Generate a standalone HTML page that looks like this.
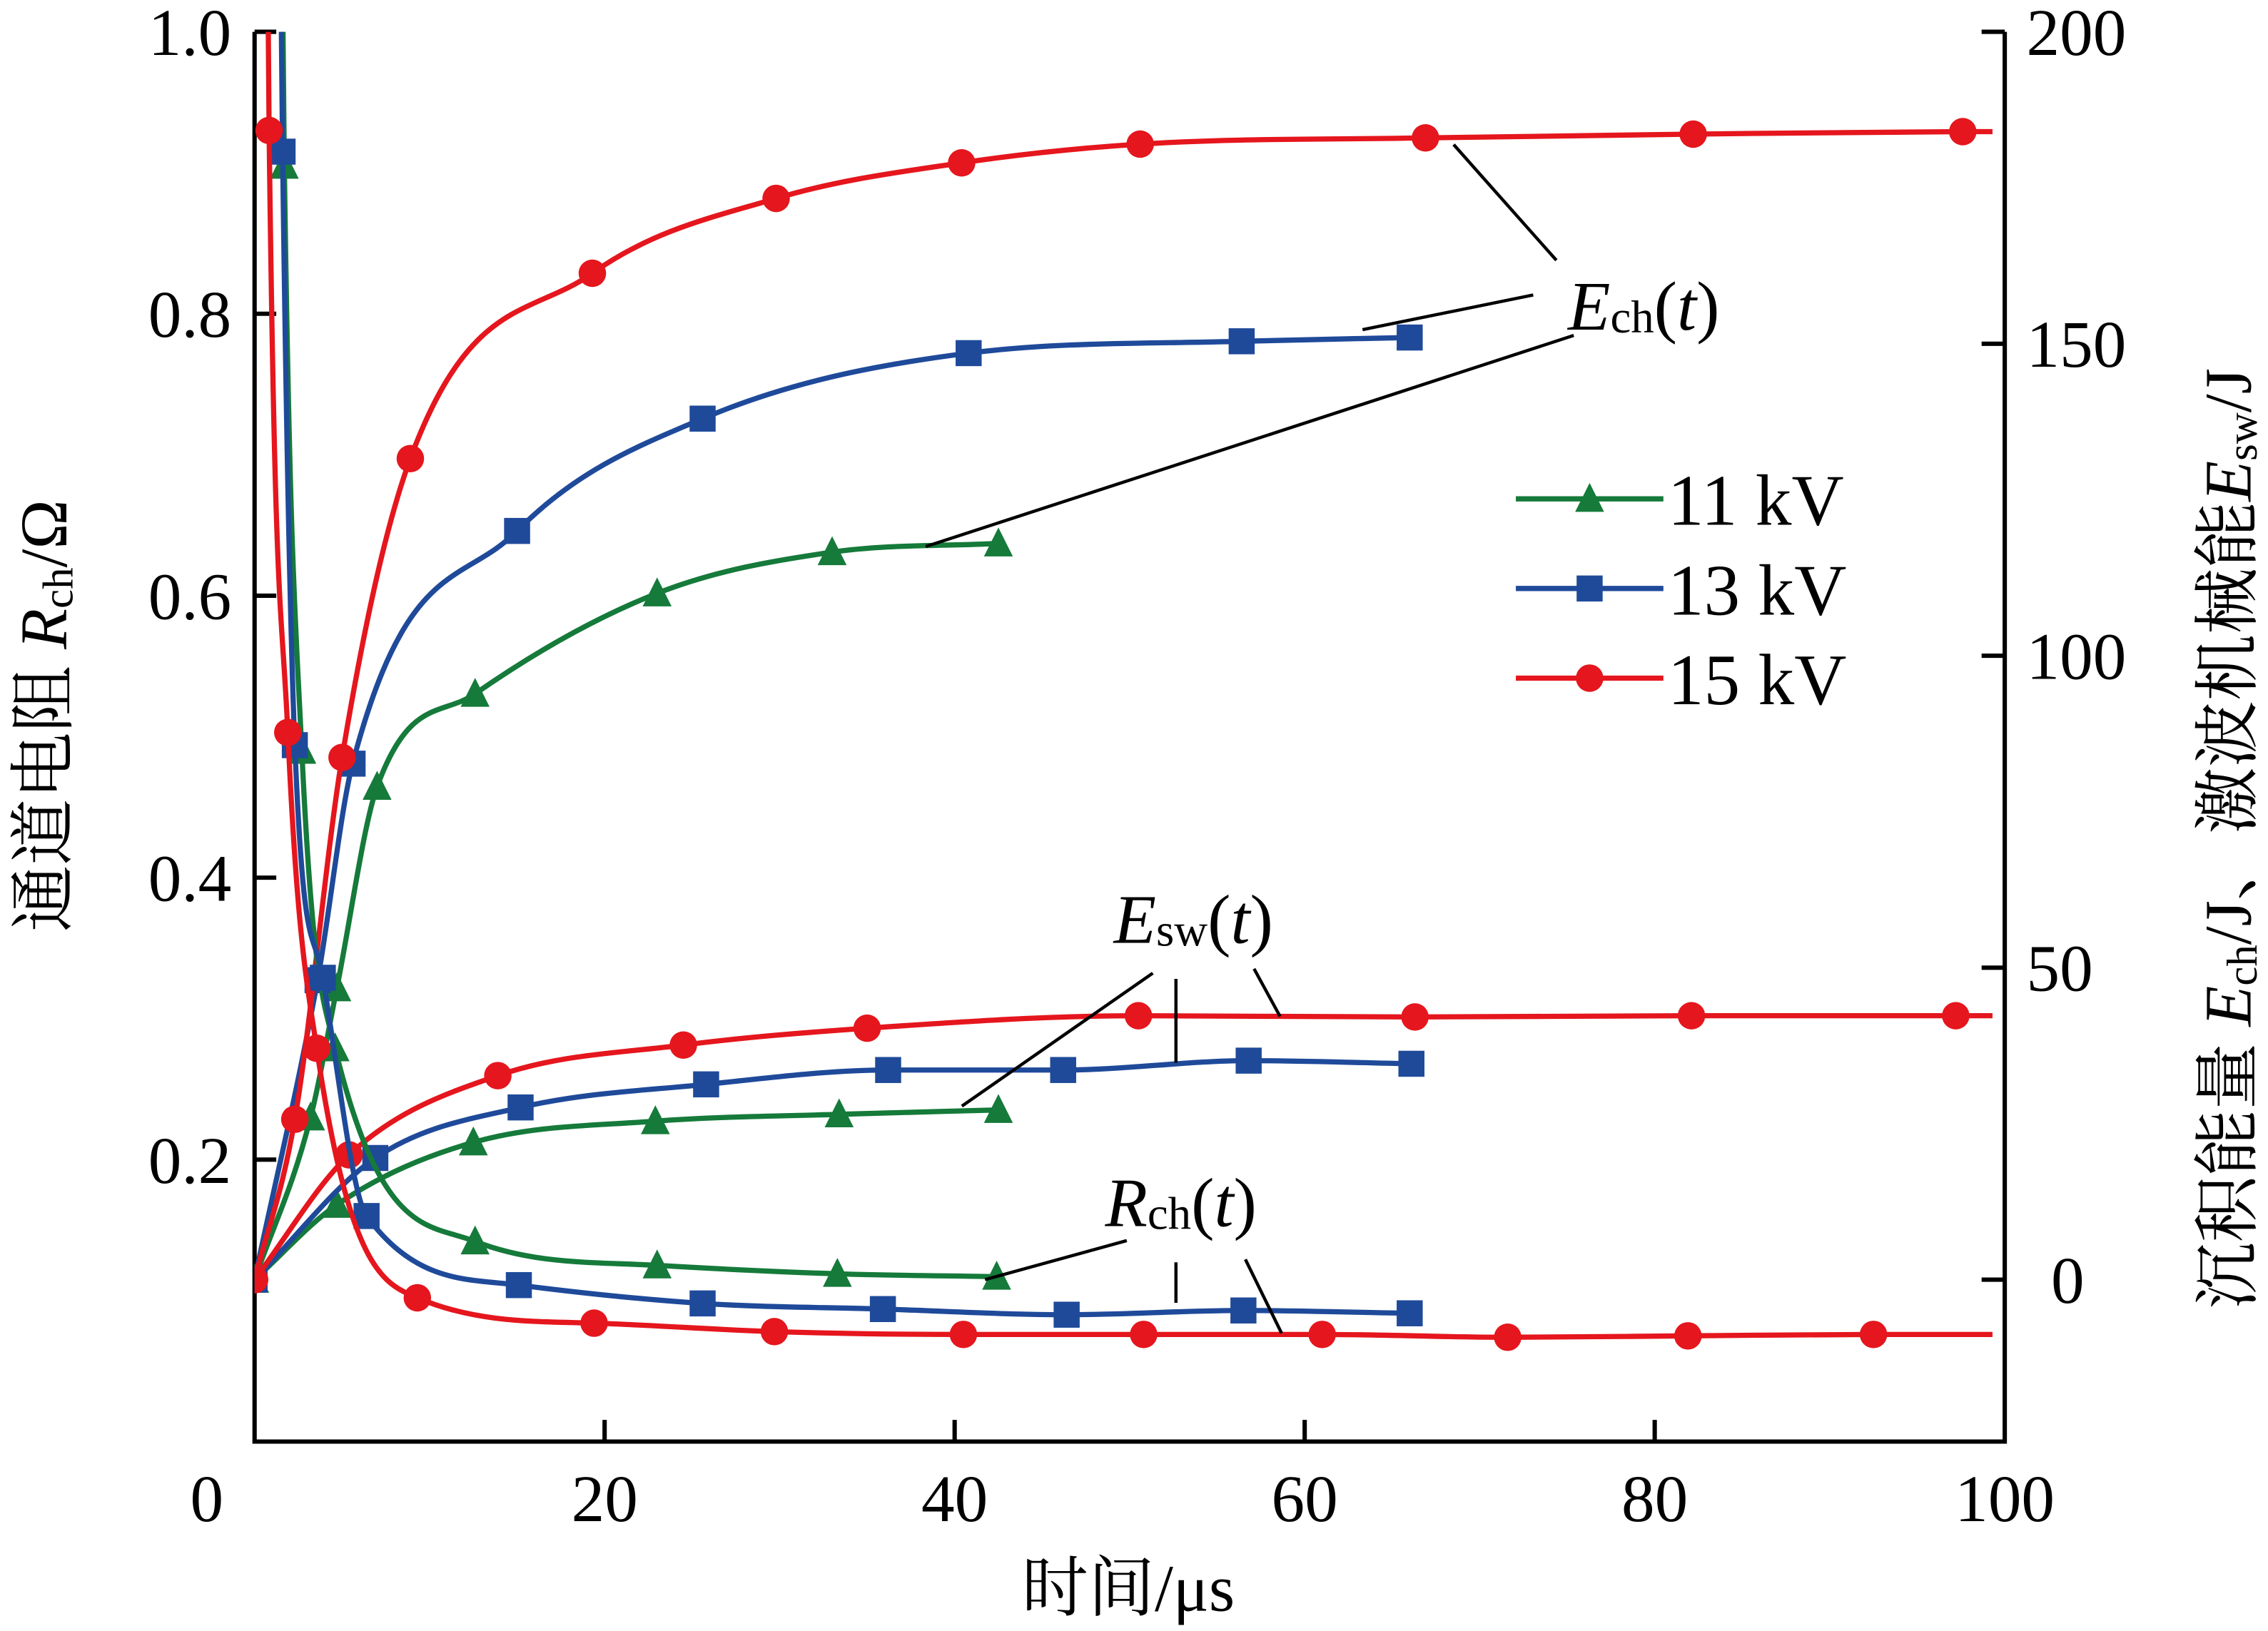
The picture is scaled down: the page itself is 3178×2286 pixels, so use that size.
<!DOCTYPE html>
<html><head><meta charset="utf-8"><style>
html,body{margin:0;padding:0;background:#fff;}
svg{display:block;}
text{font-family:"Liberation Serif","Noto Serif CJK SC",serif;fill:#000;}
</style></head>
<body>
<svg id="chart" width="3178" height="2286" viewBox="0 0 1568 1128" preserveAspectRatio="none" xmlns="http://www.w3.org/2000/svg">
<defs><clipPath id="plotClip"><rect x="176" y="22" width="1210" height="975"/></clipPath></defs>
<g id="axes"></g>
<g id="series" clip-path="url(#plotClip)"></g>
<g id="annot">
  <line x1="1005" y1="100" x2="1076" y2="180" stroke="#000" stroke-width="2.2"/>
  <line x1="942" y1="228" x2="1060" y2="204" stroke="#000" stroke-width="2.2"/>
  <line x1="640" y1="378" x2="1088" y2="232" stroke="#000" stroke-width="2.2"/>
  <text x="1084" y="228" font-size="48"><tspan font-style="italic">E</tspan><tspan font-size="32" dy="2">ch</tspan><tspan dy="-2">(</tspan><tspan font-style="italic">t</tspan><tspan>)</tspan></text>
  <line x1="665" y1="765" x2="797" y2="673" stroke="#000" stroke-width="2.2"/>
  <line x1="813" y1="677" x2="813" y2="735" stroke="#000" stroke-width="2.2"/>
  <line x1="867" y1="670" x2="885" y2="703" stroke="#000" stroke-width="2.2"/>
  <text x="770" y="652" font-size="48"><tspan font-style="italic">E</tspan><tspan font-size="32" dy="2">sw</tspan><tspan dy="-2">(</tspan><tspan font-style="italic">t</tspan><tspan>)</tspan></text>
  <line x1="681" y1="885" x2="779" y2="858" stroke="#000" stroke-width="2.2"/>
  <line x1="813" y1="873" x2="813" y2="901" stroke="#000" stroke-width="2.2"/>
  <line x1="861" y1="871" x2="886" y2="922" stroke="#000" stroke-width="2.2"/>
  <text x="764" y="848" font-size="48"><tspan font-style="italic">R</tspan><tspan font-size="32" dy="2">ch</tspan><tspan dy="-2">(</tspan><tspan font-style="italic">t</tspan><tspan>)</tspan></text>
</g>
<g id="legend"></g>
<text x="780" y="1114" font-size="46" text-anchor="middle">时间/μs</text>
<text transform="translate(46,495) rotate(-90)" font-size="46" text-anchor="middle">通道电阻 <tspan font-style="italic">R</tspan><tspan font-size="30" dy="4">ch</tspan><tspan dy="-4">/Ω</tspan></text>
<text transform="translate(1556,580) rotate(-90)" font-size="46" text-anchor="middle">沉积能量 <tspan font-style="italic">E</tspan><tspan font-size="30" dy="4">ch</tspan><tspan dy="-4">/J、激波机械能</tspan><tspan font-style="italic">E</tspan><tspan font-size="30" dy="4">sw</tspan><tspan dy="-4">/J</tspan></text>
</svg>
<script>
// ---- data ----
const xTicks = [0,20,40,60,80,100];
const leftTicks = [0.2,0.4,0.6,0.8,1.0];
const rightTicks = [0,50,100,150,200];
const seriesNames = ["11 kV","13 kV","15 kV"];
// Rch (left axis)
const rchT11 = [1.4,1.7,2.7,4.6,12.6,23,33.3,42.4];
const rchV11 = [1.3,0.905,0.49,0.279,0.142,0.125,0.119,0.117];
const rchT13 = [1.3,1.6,2.3,3.9,6.4,15.1,25.6,35.9,46.4,56.5,66];
const rchV13 = [1.3,0.915,0.494,0.329,0.16,0.111,0.098,0.094,0.090,0.093,0.091];
const rchT15 = [0.6,0.83,1.9,3.55,9.3,19.4,29.7,40.5,50.8,61,71.6,81.9,92.5];
const rchV15 = [1.3,0.93,0.503,0.279,0.102,0.084,0.078,0.076,0.076,0.076,0.074,0.075,0.076];
// Ech (right axis)
const echT11 = [0,3.2,4.7,7,12.6,23,33,42.5];
const echV11 = [0,26,46.7,79,93.9,110,116.6,118];
const echT13 = [0,3.6,5.6,15,25.6,40.8,56.4,66];
const echV13 = [0,48,82.7,120,138,148.5,150.4,151];
const echT15 = [0,2.3,5,8.9,19.3,29.8,40.4,50.6,66.9,82.2,97.6];
const echV15 = [0,25.7,83.7,131.6,161.3,173.3,179,182,183,183.6,184];
// Esw (right axis)
const eswT11 = [0,4.7,12.5,22.9,33.4,42.5];
const eswV11 = [0,12,22,25.4,26.5,27.2];
const eswT13 = [0,6.9,15.2,25.8,36.2,46.2,56.8,66.1];
const eswV13 = [0,19.5,27.6,31.3,33.6,33.6,35.1,34.6];
const eswT15 = [0,5.4,13.9,24.5,35,50.5,66.3,82.1,97.2];
const eswV15 = [0,20,32.7,37.6,40.3,42.3,42.1,42.3,42.3];
const colors = ["#157a3a","#1f4a9a","#e5161d"];
const markers = ["triangle","square","circle"];

// ---- scales ----
const X0=176, X1=1386, YT=22, YB=997;
function xs(t){return X0+(X1-X0)*t/100;}
function yl(r){return YB-(YB-YT)*r/1.0;}
function yr(e){return 885-(885-YT)*e/200;}
const NS="http://www.w3.org/2000/svg";
function mk(tag,attrs,parent){const e=document.createElementNS(NS,tag);for(const k in attrs)e.setAttribute(k,attrs[k]);parent.appendChild(e);return e;}

function monoPath(px,py){
  const n=px.length; if(n<2) return "";
  const d=[],m=[];
  for(let i=0;i<n-1;i++){d.push((py[i+1]-py[i])/(px[i+1]-px[i]||1e-6));}
  m[0]=d[0]; m[n-1]=d[n-2];
  for(let i=1;i<n-1;i++){ if(d[i-1]*d[i]<=0) m[i]=0; else m[i]=(d[i-1]+d[i])/2; }
  for(let i=0;i<n-1;i++){ if(d[i]===0){m[i]=0;m[i+1]=0;continue;} const a=m[i]/d[i],b=m[i+1]/d[i],s=a*a+b*b; if(s>9){const tt=3/Math.sqrt(s);m[i]=tt*a*d[i];m[i+1]=tt*b*d[i];} }
  let p="M"+px[0]+","+py[0];
  for(let i=0;i<n-1;i++){const h=(px[i+1]-px[i])/3;
    p+=" C"+(px[i]+h)+","+(py[i]+m[i]*h)+" "+(px[i+1]-h)+","+(py[i+1]-m[i+1]*h)+" "+px[i+1]+","+py[i+1];}
  return p;
}
function drawMarker(type,x,y,color,parent){
  let e;
  if(type==="circle") e=mk("circle",{cx:x,cy:y,r:9.5,fill:color},parent);
  else if(type==="square") e=mk("rect",{x:x-9,y:y-9,width:18,height:18,fill:color},parent);
  else e=mk("polygon",{points:(x)+","+(y-11)+" "+(x-10)+","+(y+9)+" "+(x+10)+","+(y+9),fill:color},parent);
  return e;
}
const sg=document.getElementById("series");
function drawSeries(T,V,yf,ci,name,extend){
  const px=T.map(xs), py=V.map(yf);
  if(extend){px.push(xs(99.3));py.push(py[py.length-1]);}
  const path=mk("path",{d:monoPath(px,py),fill:"none",stroke:colors[ci],"stroke-width":3.6},sg);
  
  
  for(let i=0;i<T.length;i++){
    const m=drawMarker(markers[ci],xs(T[i]),yf(V[i]),colors[ci],sg);
    
    
  }
}
drawSeries(echT11,echV11,yr,0,"ech-11kv",false);
drawSeries(echT13,echV13,yr,1,"ech-13kv",false);
drawSeries(echT15,echV15,yr,2,"ech-15kv",true);
drawSeries(eswT11,eswV11,yr,0,"esw-11kv",false);
drawSeries(eswT13,eswV13,yr,1,"esw-13kv",false);
drawSeries(eswT15,eswV15,yr,2,"esw-15kv",true);
drawSeries(rchT11,rchV11,yl,0,"rch-11kv",false);
drawSeries(rchT13,rchV13,yl,1,"rch-13kv",false);
drawSeries(rchT15,rchV15,yl,2,"rch-15kv",true);

// ---- axes ----
const ax=document.getElementById("axes");
const frame=mk("path",{d:"M"+X0+","+YT+" L"+X0+","+YB+" L"+X1+","+YB+" L"+X1+","+YT,fill:"none",stroke:"#000","stroke-width":3},ax);


xTicks.forEach(t=>{
  const x=xs(t);
  if(t>0&&t<100){const l=mk("line",{x1:x,y1:YB,x2:x,y2:YB-15,stroke:"#000","stroke-width":3},ax);
    
    }
  const tx=mk("text",{x:t===0?143:x,y:1052,"font-size":46,"text-anchor":"middle"},ax);
  tx.textContent=t;
  
  
});
leftTicks.forEach(v=>{
  const y=yl(v);
  const l=mk("line",{x1:X0,y1:y,x2:X0+15,y2:y,stroke:"#000","stroke-width":3},ax);
  
  
  const tx=mk("text",{x:160,y:y+16,"font-size":46,"text-anchor":"end"},ax);
  tx.textContent=v.toFixed(1);
  
  
});
rightTicks.forEach(v=>{
  const y=yr(v);
  const l=mk("line",{x1:X1,y1:y,x2:X1-16,y2:y,stroke:"#000","stroke-width":3},ax);
  
  
  const tx=mk("text",{x:1401+(v===0?17:0),y:y+16,"font-size":46},ax);
  tx.textContent=v;
  
  
});

// ---- legend ----
const lg=document.getElementById("legend");
const legY=[345,407,469];
seriesNames.forEach((s,i)=>{
  const l=mk("line",{x1:1048,y1:legY[i],x2:1150,y2:legY[i],stroke:colors[i],"stroke-width":3.6},lg);
  
  
  const m=drawMarker(markers[i],1099,legY[i],colors[i],lg);
  
  
  const t=mk("text",{x:1153,y:legY[i]+18,"font-size":50},lg);
  t.textContent=s;
  
  
});
</script>
</body></html>
